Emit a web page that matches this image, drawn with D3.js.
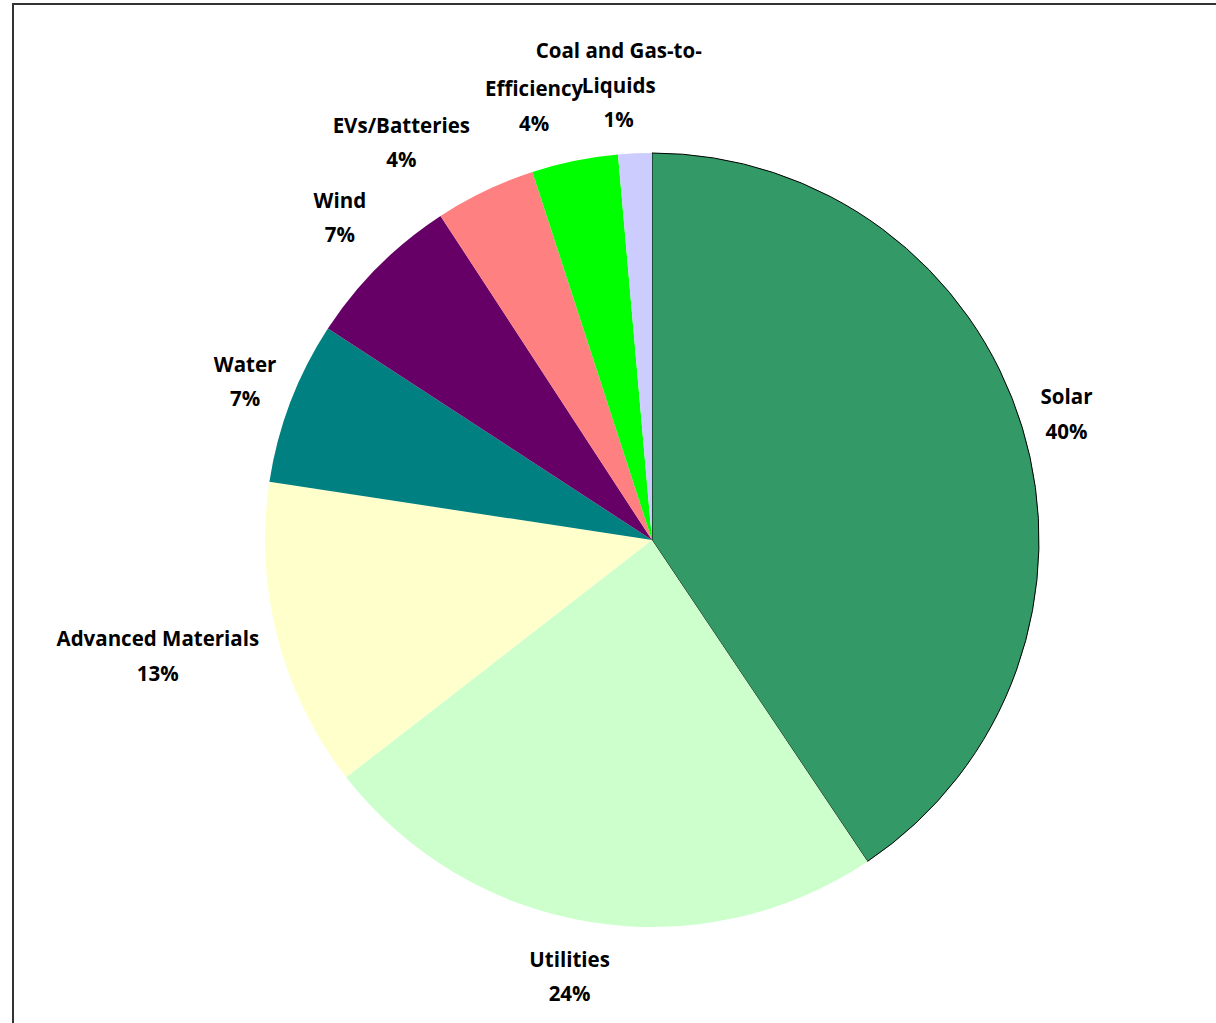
<!DOCTYPE html>
<html><head><meta charset="utf-8">
<script src="https://cdn.jsdelivr.net/npm/d3@7"></script>
<style>html,body{margin:0;padding:0;background:#fff;}</style>
</head><body>
<svg id="chart" width="1216" height="1023"></svg>
<script>
const categories = ["Solar","Utilities","Advanced Materials","Water","Wind","EVs/Batteries","Efficiency","Coal and Gas-to-Liquids"];
const values = [40.6, 23.9, 12.9, 6.8, 6.6, 4.2, 3.6, 1.4];
const labelLines = [["Solar"],["Utilities"],["Advanced Materials"],["Water"],["Wind"],["EVs/Batteries"],["Efficiency"],["Coal and Gas-to-","Liquids"]];
const percentLabels = ["40%","24%","13%","7%","7%","4%","4%","1%"];
const colors = ["#339966","#CCFFCC","#FFFFCC","#008080","#660066","#FF8080","#00FF00","#CCCCFF"];

// layout nudges for label placement (pixels)
const nudge = {"Solar":[6,0],"Utilities":[-12,6],"Water":[-3,-4],"Wind":[-10,-15],"EVs/Batteries":[-48,-5],"Efficiency":[-28,-8],"Coal and Gas-to-Liquids":[-12,-3],"Advanced Materials":[-8,6]};

const svg = d3.select("#chart");
svg.append("rect").attr("x",13).attr("y",4).attr("width",1400).attr("height",1200)
  .attr("fill","#fff").attr("stroke","#333").attr("stroke-width",2);

const cx = 652, cy = 540, r = 387;
const g = svg.append("g").attr("transform",`translate(${cx},${cy})`);
const data = categories.map((c,i)=>({name:c, value:values[i], color:colors[i], lines:labelLines[i].concat([percentLabels[i]])}));
const pie = d3.pie().value(d=>d.value).sort(null);
const arc = d3.arc().innerRadius(0).outerRadius(r);
const arcs = pie(data);

g.selectAll("path.slice").data(arcs).enter().append("path")
  .attr("class","slice")
  .attr("d",arc)
  .attr("fill",d=>d.data.color)
  .attr("stroke",d=>d.index===0?"#000":"none")
  .attr("stroke-width",1);

const fontSize = 20.5, lineH = 34.5, gap = 14;
const lbl = g.selectAll("g.lbl").data(arcs).enter().append("g").attr("class","lbl");
lbl.each(function(d){
  const sel = d3.select(this);
  const t = sel.append("text").attr("text-anchor","middle")
    .style("font-family","'Open Sans', Lato, sans-serif").style("font-weight","bold")
    .style("font-size",fontSize+"px").attr("fill","#000");
  const n = d.data.lines.length;
  d.data.lines.forEach((s,k)=>{
    t.append("tspan").attr("x",0).attr("y",(k-(n-1)/2)*lineH).attr("dominant-baseline","central").text(s);
  });
  const bb = t.node().getBBox();
  const w = bb.width, h = n*lineH;
  const a = (d.startAngle+d.endAngle)/2;
  const sa = Math.sin(a), ca = Math.cos(a);
  const R = r+gap;
  const nd = nudge[d.data.name] || [0,0];
  const x = sa*R + sa*w/2 + nd[0];
  const y = -ca*R - ca*h/2 + nd[1];
  sel.attr("transform",`translate(${x},${y})`);
});
</script>
</body></html>
